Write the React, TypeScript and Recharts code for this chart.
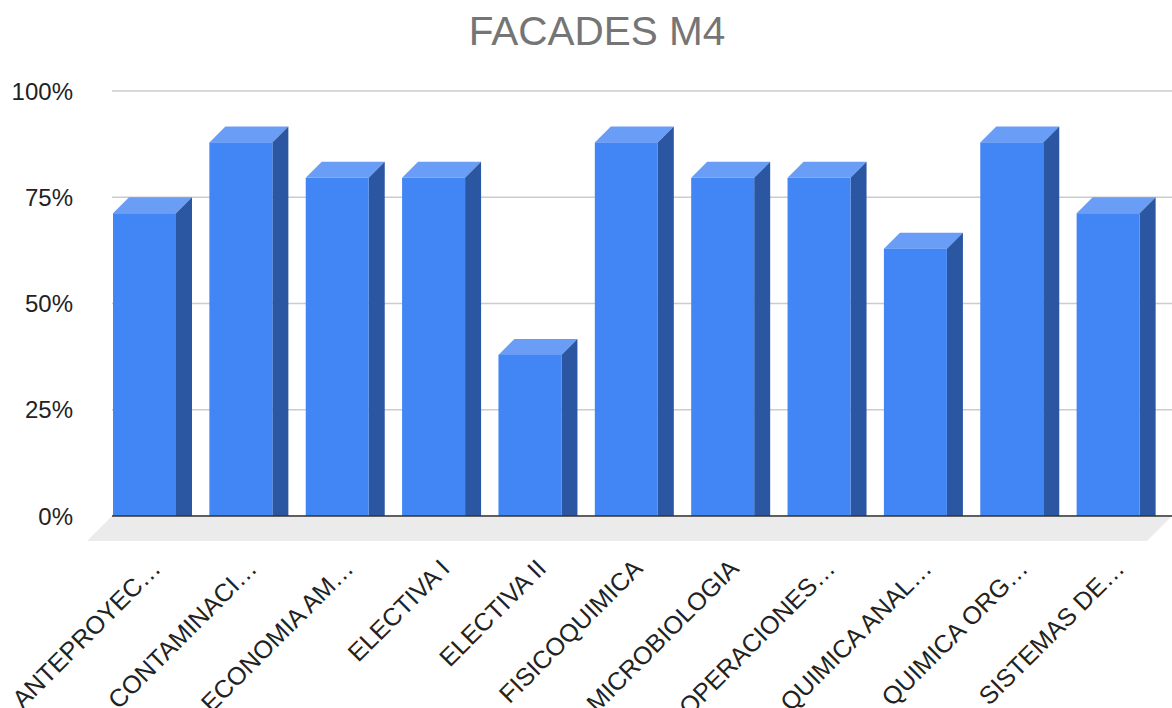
import React from "react";
import { BarChart, Bar, XAxis, YAxis, CartesianGrid, ReferenceLine } from "recharts";

const categories = [
  "ANTEPROYEC…",
  "CONTAMINACI…",
  "ECONOMIA AM…",
  "ELECTIVA I",
  "ELECTIVA II",
  "FISICOQUIMICA",
  "MICROBIOLOGIA",
  "OPERACIONES…",
  "QUIMICA ANAL…",
  "QUIMICA ORG…",
  "SISTEMAS DE…",
];
const approved = [75, 91.67, 83.33, 83.33, 41.67, 91.67, 83.33, 83.33, 66.67, 91.67, 75];
const yTicks = [0, 25, 50, 75, 100];

const data = categories.map((name, i) => ({ name, value: approved[i] }));

const FONT = '"Liberation Sans", Arial, sans-serif';
const DEPTH = 16;

// front face + lighter top + darker side, front shifted down-left by DEPTH
function Column3D(props: any) {
  const { x, y, width, height } = props;
  const d = DEPTH;
  const top = `${x - d},${y + d} ${x},${y} ${x + width},${y} ${x + width - d},${y + d}`;
  const side = `${x + width - d},${y + d} ${x + width},${y} ${x + width},${y + height} ${x + width - d},${y + height + d}`;
  return (
    <g>
      <polygon points={top} fill="#6a9df5" />
      <polygon points={side} fill="#2b56a2" />
      <rect x={x - d} y={y + d} width={width} height={height} fill="#4285f4" />
    </g>
  );
}

function Floor(props: any) {
  const { x1, y1, x2 } = props;
  const f = 25;
  const pts = `${x1},${y1} ${x2},${y1} ${x2 - f},${y1 + f} ${x1 - f},${y1 + f}`;
  return (
    <g>
      <polygon points={pts} fill="#ebebeb" />
      <line x1={x1} y1={y1} x2={x2} y2={y1} stroke="#333333" strokeWidth={1.5} />
    </g>
  );
}

function SlantedTick(props: any) {
  const { x, y, payload } = props;
  const tx = x + 2;
  const ty = y + 52;
  return (
    <text
      x={tx}
      y={ty}
      transform={`rotate(-45, ${tx}, ${ty})`}
      textAnchor="end"
      fontSize={25}
      fill="#222222"
      fontFamily={FONT}
    >
      {payload.value}
    </text>
  );
}

export default function App() {
  return (
    <div style={{ position: "absolute", left: 0, top: 0, width: 1172, height: 708, background: "white", fontFamily: FONT }}>
      <div
        style={{
          position: "absolute",
          top: 11,
          left: 0,
          width: 1194,
          textAlign: "center",
          fontSize: 40.5,
          lineHeight: "40px",
          color: "#757575",
        }}
      >
        FACADES M4
      </div>
      <BarChart width={1172} height={708} data={data} margin={{ top: 91, right: 0, bottom: 0, left: 0 }}>
        <CartesianGrid vertical={false} stroke="#cccccc" strokeWidth={1.5} />
        <ReferenceLine y={0} shape={<Floor />} />
        <XAxis
          dataKey="name"
          interval={0}
          height={192}
          axisLine={false}
          tickLine={false}
          tickSize={0}
          tick={<SlantedTick />}
        />
        <YAxis
          domain={[0, 100]}
          ticks={yTicks}
          width={112}
          axisLine={false}
          tickLine={false}
          tickSize={0}
          tickMargin={39}
          tickFormatter={(v: number) => `${v}%`}
          tick={{ fontSize: 24, fill: "#222222", fontFamily: FONT }}
        />
        <Bar dataKey="value" barSize={63} shape={<Column3D />} isAnimationActive={false} />
      </BarChart>
    </div>
  );
}
